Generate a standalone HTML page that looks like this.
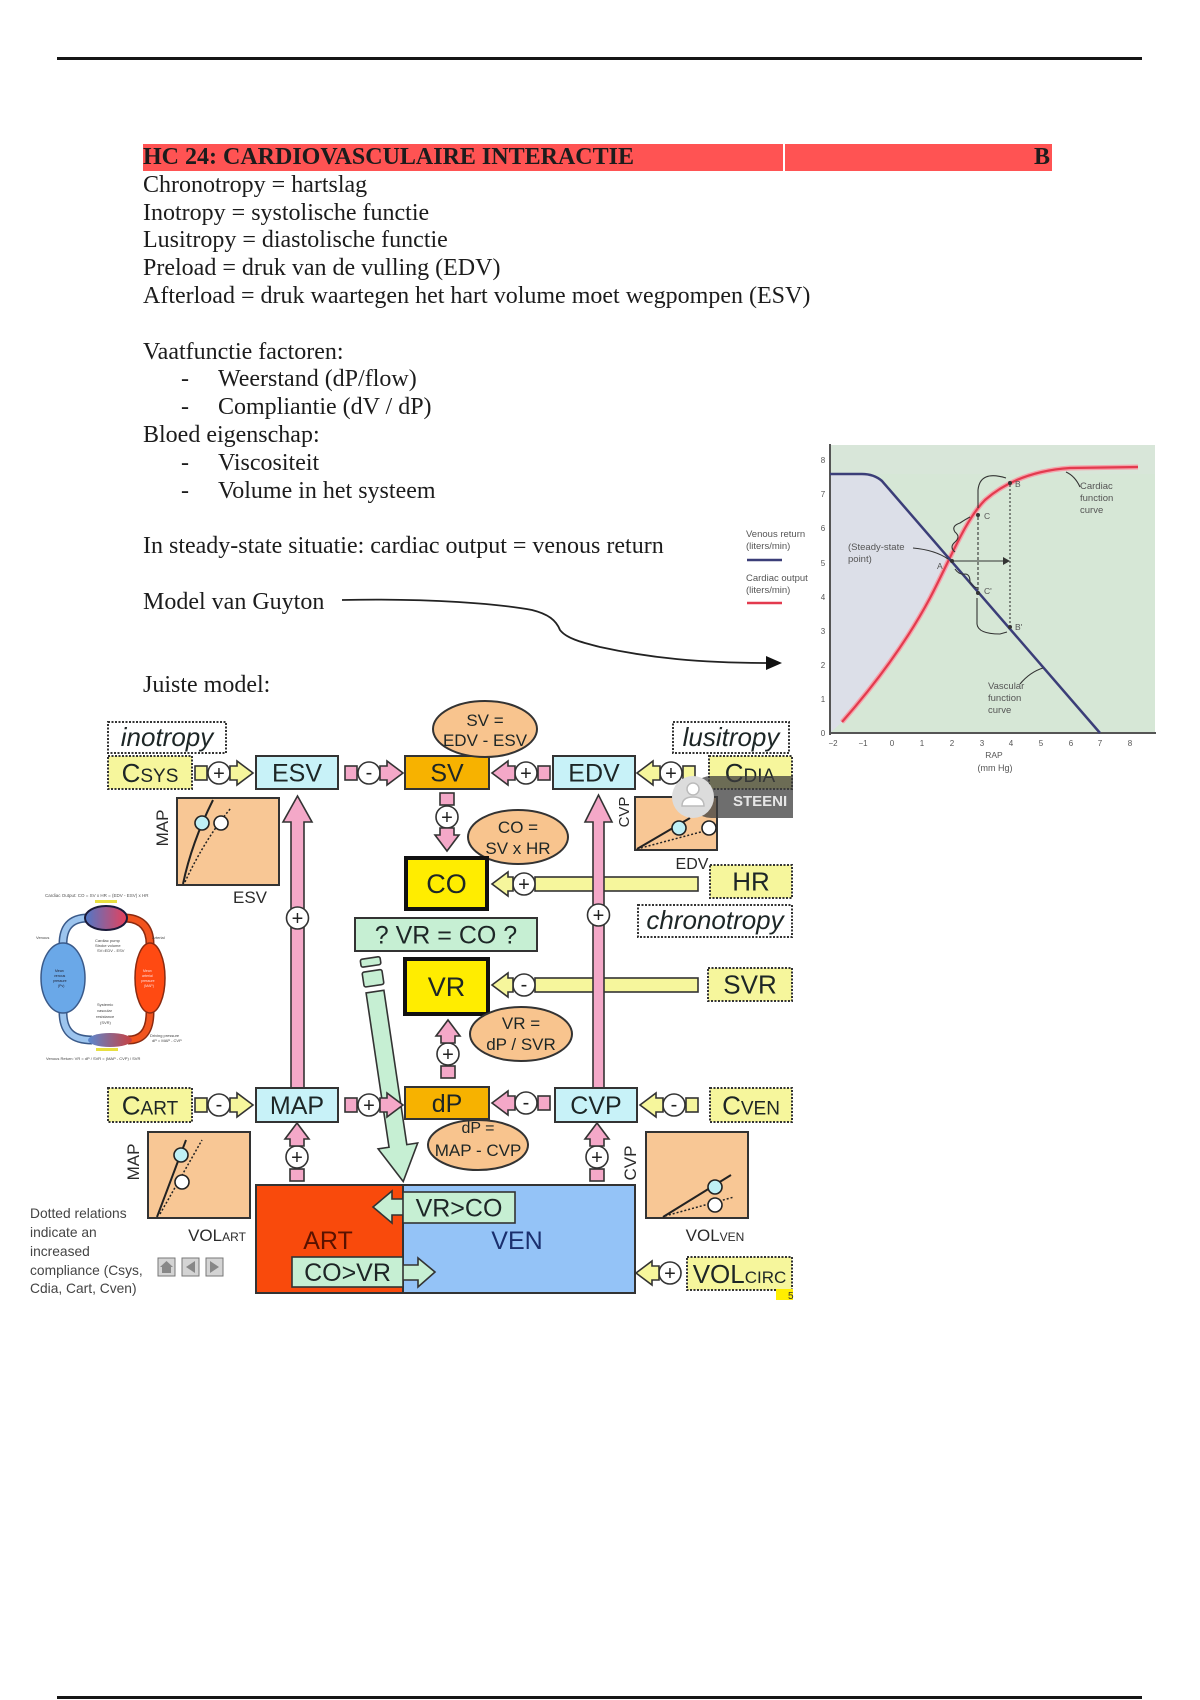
<!DOCTYPE html>
<html>
<head>
<meta charset="utf-8">
<style>
html,body{margin:0;padding:0;}
body{width:1200px;height:1700px;position:relative;overflow:hidden;background:#fff;}
.t{position:absolute;left:143px;font-family:"Liberation Serif","Times New Roman",serif;font-size:24px;line-height:27.8px;color:#1c1c1c;white-space:nowrap;}
.d{display:inline-block;width:37px;margin-left:38px;}
</style>
</head>
<body>
<div style="position:absolute;left:57px;top:57px;width:1085px;height:3px;background:#151515;"></div>
<div style="position:absolute;left:57px;top:1696px;width:1085px;height:3px;background:#151515;"></div>
<div style="position:absolute;left:143px;top:144px;width:909px;height:27px;background:#ff5353;"></div>
<div style="position:absolute;left:783px;top:144px;width:2px;height:27px;background:#fff;"></div>

<svg width="1200" height="1700" style="position:absolute;left:0;top:0" font-family="Liberation Sans, Arial, sans-serif">
<defs>
 <g id="cR" stroke="#333" stroke-width="1.6">
  <rect x="0" y="-7" width="12" height="14"/>
  <circle cx="24" cy="0" r="11" fill="#fff"/>
  <path d="M35,-7 L42,-7 L42,-12 L58,0 L42,12 L42,7 L35,7 Z"/>
 </g>
 <g id="cN" stroke="#333" stroke-width="1.6">
  <circle cx="24" cy="0" r="11" fill="#fff"/>
  <path d="M35,-7 L42,-7 L42,-12 L58,0 L42,12 L42,7 L35,7 Z"/>
 </g>
 <linearGradient id="hg" x1="0" x2="1" y1="0" y2="0"><stop offset="0" stop-color="#4f78c8"/><stop offset="1" stop-color="#e8405a"/></linearGradient>
 <linearGradient id="bg" x1="0" x2="1" y1="0" y2="0"><stop offset="0" stop-color="#5a88d0"/><stop offset="1" stop-color="#c84040"/></linearGradient>
</defs>

<!-- ============ GUYTON GRAPH ============ -->
<rect x="830" y="445" width="325" height="288" fill="#d6e7d6"/>
<path d="M830,474 L862,474 Q874,474 882,481 L952,562 C940,585 925,610 905,640 C885,670 865,700 842,722 L830,733 Z" fill="#dcdfe8"/>
<path d="M830,445 L1155,445 L1155,474 L830,474 Z" fill="#d9e6da" opacity="0.6"/>
<line x1="830" y1="444" x2="830" y2="735" stroke="#555" stroke-width="2"/>
<line x1="829" y1="733" x2="1156" y2="733" stroke="#555" stroke-width="2"/>
<g font-size="8" fill="#555" text-anchor="middle">
 <text x="823" y="736">0</text><text x="823" y="702">1</text><text x="823" y="668">2</text><text x="823" y="634">3</text><text x="823" y="600">4</text><text x="823" y="566">5</text><text x="823" y="531">6</text><text x="823" y="497">7</text><text x="823" y="463">8</text>
 <text x="833" y="746">−2</text><text x="863" y="746">−1</text><text x="892" y="746">0</text><text x="922" y="746">1</text><text x="952" y="746">2</text><text x="982" y="746">3</text><text x="1011" y="746">4</text><text x="1041" y="746">5</text><text x="1071" y="746">6</text><text x="1100" y="746">7</text><text x="1130" y="746">8</text>
 <text x="994" y="758" font-size="8.5">RAP</text><text x="995" y="771" font-size="9">(mm Hg)</text>
</g>
<path d="M842,722 C870,690 905,645 930,598 C950,560 965,520 985,500 C1010,478 1040,470 1070,468 L1138,467" fill="none" stroke="#f4a3ab" stroke-width="5"/>
<path d="M842,722 C870,690 905,645 930,598 C950,560 965,520 985,500 C1010,478 1040,470 1070,468 L1138,467" fill="none" stroke="#e33a4e" stroke-width="2.2"/>
<path d="M830,474 L862,474 Q874,474 882,481 L1100,733" fill="none" stroke="#3b3e78" stroke-width="2.5"/>
<g stroke="#333" fill="none" stroke-width="1.1">
 <line x1="978" y1="517" x2="978" y2="591" stroke-dasharray="3 2"/>
 <line x1="1010" y1="485" x2="1010" y2="625" stroke-dasharray="2 2"/>
 <line x1="953" y1="561" x2="1004" y2="561"/>
 <path d="M1006,478 Q980,470 978,490 L978,508"/>
 <path d="M977,598 L977,624 Q978,634 1000,634 L1007,632"/>
 <path d="M955,552 q-6,-5 0,-10 q6,-5 0,-10 q-4,-6 5,-9 q6,-4 10,-6"/>
 <path d="M955,569 q4,6 10,5 q5,0 5,8 q4,6 8,6"/>
 <path d="M913,548 Q935,550 948,559"/>
 <path d="M1080,487 Q1075,476 1066,472"/>
 <path d="M1020,684 Q1030,672 1043,668"/>
</g>
<path d="M1010,561 L1003,557 L1003,565 Z" fill="#333"/>
<g fill="#333"><circle cx="952" cy="561" r="2"/><circle cx="978" cy="515" r="2"/><circle cx="1010" cy="483" r="2"/><circle cx="978" cy="593" r="2"/><circle cx="1010" cy="627" r="2"/></g>
<g font-size="8.5" fill="#555">
 <text x="937" y="569">A</text><text x="984" y="519">C</text><text x="1015" y="487">B</text><text x="984" y="594">C'</text><text x="1015" y="630">B'</text>
</g>
<g font-size="9.5" fill="#555">
 <text x="848" y="550">(Steady-state</text><text x="848" y="562">point)</text>
 <text x="1080" y="489">Cardiac</text><text x="1080" y="501">function</text><text x="1080" y="513">curve</text>
 <text x="988" y="689">Vascular</text><text x="988" y="701">function</text><text x="988" y="713">curve</text>
 <text x="746" y="537">Venous return</text><text x="746" y="549">(liters/min)</text>
 <text x="746" y="581">Cardiac output</text><text x="746" y="593">(liters/min)</text>
</g>
<line x1="747" y1="560" x2="782" y2="560" stroke="#3b3e78" stroke-width="2.5"/>
<line x1="747" y1="603" x2="782" y2="603" stroke="#e33a4e" stroke-width="2.5"/>

<!-- Guyton arrow -->
<path d="M342,600 C430,598 500,604 532,610 C548,614 556,620 560,630 C566,638 580,642 600,647 C650,658 700,663 768,663" fill="none" stroke="#222" stroke-width="1.8"/>
<path d="M782,663 L766,656 L766,670 Z" fill="#111"/>

<!-- ============ DIAGRAM ============ -->
<g stroke="#333" stroke-width="1.6" fill="#f6f69c">
 <rect x="535" y="877" width="163" height="14"/>
 <circle cx="524" cy="884" r="11" fill="#fff"/>
 <path d="M513,877 L508,877 L508,872 L492,884 L508,896 L508,891 L513,891 Z"/>
 <rect x="535" y="978" width="163" height="14"/>
 <circle cx="524" cy="985" r="11" fill="#fff"/>
 <path d="M513,978 L508,978 L508,973 L492,985 L508,997 L508,992 L513,992 Z"/>
</g>
<g font-size="20" fill="#222" text-anchor="middle">
 <text x="524" y="891">+</text><text x="524" y="991">-</text>
</g>

<g stroke="#333" stroke-width="1.6" fill="#f4a8c8">
 <path d="M291,1088 L291,822 L283,822 L297.5,796 L312,822 L304,822 L304,1088 Z"/>
 <path d="M593,1088 L593,822 L585,822 L598.5,795 L612,822 L604,822 L604,1088 Z"/>
 <circle cx="297.5" cy="918" r="11" fill="#fff"/>
 <circle cx="598.5" cy="915" r="11" fill="#fff"/>
</g>
<g font-size="20" fill="#222" text-anchor="middle">
 <text x="297.5" y="925">+</text><text x="598.5" y="922">+</text>
</g>

<g transform="translate(370,958) rotate(-8.45)" stroke="#333" stroke-width="1.6" fill="#c6efd3">
 <rect x="-10" y="0" width="20" height="8" rx="2"/>
 <rect x="-10" y="13" width="20" height="15" rx="2"/>
 <path d="M-9,34 L9,34 L9,190 L20,190 L0,226 L-20,190 L-9,190 Z"/>
</g>

<use href="#cR" transform="translate(195,773)" fill="#f6f69c"/>
<use href="#cR" transform="translate(345,773)" fill="#f4a8c8"/>
<use href="#cR" transform="translate(550,773) scale(-1,1)" fill="#f4a8c8"/>
<use href="#cR" transform="translate(695,773) scale(-1,1)" fill="#f6f69c"/>
<use href="#cR" transform="translate(195,1105)" fill="#f6f69c"/>
<use href="#cR" transform="translate(345,1105)" fill="#f4a8c8"/>
<use href="#cR" transform="translate(550,1103) scale(-1,1)" fill="#f4a8c8"/>
<use href="#cR" transform="translate(698,1105) scale(-1,1)" fill="#f6f69c"/>
<use href="#cN" transform="translate(694,1273) scale(-1,1)" fill="#f6f69c"/>
<use href="#cR" transform="translate(447,793) rotate(90)" fill="#f4a8c8"/>
<use href="#cR" transform="translate(448,1078) rotate(-90)" fill="#f4a8c8"/>
<use href="#cR" transform="translate(297,1181) rotate(-90)" fill="#f4a8c8"/>
<use href="#cR" transform="translate(597,1181) rotate(-90)" fill="#f4a8c8"/>
<g font-size="20" fill="#222" text-anchor="middle">
 <text x="219" y="780">+</text>
 <text x="369" y="779">-</text>
 <text x="526" y="780">+</text>
 <text x="671" y="780">+</text>
 <text x="219" y="1111">-</text>
 <text x="369" y="1112">+</text>
 <text x="526" y="1109">-</text>
 <text x="674" y="1111">-</text>
 <text x="670" y="1280">+</text>
 <text x="447" y="824">+</text>
 <text x="448" y="1061">+</text>
 <text x="297" y="1164">+</text>
 <text x="597" y="1164">+</text>
</g>

<g stroke="#333" stroke-width="2">
 <rect x="108" y="722" width="118" height="31" fill="#fff" stroke-dasharray="2 1.5"/>
 <rect x="108" y="756" width="84" height="33" fill="#f6f69c" stroke-dasharray="2 1.5"/>
 <rect x="256" y="756" width="82" height="33" fill="#c8f2f8"/>
 <rect x="405" y="756" width="84" height="33" fill="#f7b200"/>
 <rect x="553" y="756" width="82" height="33" fill="#c8f2f8"/>
 <rect x="673" y="722" width="116" height="31" fill="#fff" stroke-dasharray="2 1.5"/>
 <rect x="709" y="756" width="83" height="33" fill="#f6f69c" stroke-dasharray="2 1.5"/>
 <ellipse cx="485" cy="729" rx="52" ry="28" fill="#f8c48e"/>
 <ellipse cx="518" cy="837" rx="50" ry="27" fill="#f8c48e"/>
 <rect x="406" y="858" width="81" height="51" fill="#ffed00" stroke="#111" stroke-width="4"/>
 <rect x="710" y="865" width="82" height="33" fill="#f6f69c" stroke-dasharray="2 1.5"/>
 <rect x="638" y="905" width="154" height="32" fill="#fff" stroke-dasharray="2 1.5"/>
 <rect x="355" y="918" width="182" height="33" fill="#c6efd3"/>
 <rect x="405" y="959" width="83" height="55" fill="#ffed00" stroke="#111" stroke-width="4"/>
 <rect x="708" y="968" width="84" height="33" fill="#f6f69c" stroke-dasharray="2 1.5"/>
 <ellipse cx="521" cy="1034" rx="51" ry="27" fill="#f8c48e"/>
 <rect x="108" y="1088" width="84" height="34" fill="#f6f69c" stroke-dasharray="2 1.5"/>
 <rect x="256" y="1088" width="82" height="34" fill="#c8f2f8"/>
 <ellipse cx="478" cy="1145" rx="50" ry="25" fill="#f8c48e"/>
 <rect x="405" y="1087" width="84" height="32" fill="#f7b200"/>
 <rect x="555" y="1088" width="82" height="34" fill="#c8f2f8"/>
 <rect x="710" y="1088" width="82" height="34" fill="#f6f69c" stroke-dasharray="2 1.5"/>
 <rect x="256" y="1185" width="147" height="108" fill="#f94a0c"/>
 <rect x="403" y="1185" width="232" height="108" fill="#94c3f7"/>
 <rect x="687" y="1257" width="105" height="33" fill="#f6f69c" stroke-dasharray="2 1.5"/>
</g>
<g stroke="#333" stroke-width="1.6" fill="#c6efd3">
 <path d="M405,1199 L392,1199 L392,1191 L373,1207 L392,1223 L392,1215 L405,1215 Z"/>
 <rect x="403" y="1192" width="112" height="31"/>
 <path d="M401,1265 L418,1265 L418,1258 L435,1272 L418,1287 L418,1280 L401,1280 Z"/>
 <rect x="292" y="1257" width="111" height="30"/>
</g>

<g stroke="#333" stroke-width="2" fill="#f8c795">
 <rect x="177" y="798" width="102" height="87"/>
 <rect x="635" y="797" width="82" height="53"/>
 <rect x="148" y="1132" width="102" height="86"/>
 <rect x="646" y="1132" width="102" height="86"/>
</g>
<g fill="none" stroke="#222">
 <path d="M183,884 C188,860 198,830 213,800" stroke-width="2"/>
 <path d="M185,882 C195,860 212,830 231,808" stroke-width="1.5" stroke-dasharray="2 2"/>
 <path d="M637,849 L690,818" stroke-width="2"/>
 <path d="M637,849 L712,829" stroke-width="1.5" stroke-dasharray="2 2"/>
 <path d="M157,1217 L186,1140" stroke-width="2"/>
 <path d="M160,1214 L202,1140" stroke-width="1.5" stroke-dasharray="2 2"/>
 <path d="M663,1217 L731,1175" stroke-width="2"/>
 <path d="M665,1216 L734,1197" stroke-width="1.5" stroke-dasharray="2 2"/>
</g>
<g stroke="#222" stroke-width="1.6">
 <circle cx="202" cy="823" r="7" fill="#bff0f5"/><circle cx="221" cy="823" r="7" fill="#fff"/>
 <circle cx="679" cy="828" r="7" fill="#bff0f5"/><circle cx="709" cy="828" r="7" fill="#fff"/>
 <circle cx="181" cy="1155" r="7" fill="#bff0f5"/><circle cx="182" cy="1182" r="7" fill="#fff"/>
 <circle cx="715" cy="1187" r="7" fill="#bff0f5"/><circle cx="715" cy="1205" r="7" fill="#fff"/>
</g>

<g fill="#1d2626" text-anchor="middle">
 <text x="167" y="746" font-size="26" font-style="italic">inotropy</text>
 <text x="150" y="782" font-size="26">C<tspan font-size="19">SYS</tspan></text>
 <text x="297" y="781.5" font-size="25">ESV</text>
 <text x="447" y="781.5" font-size="25">SV</text>
 <text x="594" y="781.5" font-size="25">EDV</text>
 <text x="731" y="746" font-size="26" font-style="italic">lusitropy</text>
 <text x="750" y="782" font-size="26">C<tspan font-size="19">DIA</tspan></text>
 <text x="485" y="726" font-size="17">SV =</text>
 <text x="485" y="746" font-size="17">EDV - ESV</text>
 <text x="518" y="833" font-size="17">CO =</text>
 <text x="518" y="854" font-size="17">SV x HR</text>
 <text x="446.5" y="893" font-size="27">CO</text>
 <text x="751" y="890.5" font-size="26">HR</text>
 <text x="715" y="929" font-size="26" font-style="italic">chronotropy</text>
 <text x="446" y="943.5" font-size="25">? VR = CO ?</text>
 <text x="446.5" y="996" font-size="27">VR</text>
 <text x="750" y="993.5" font-size="26">SVR</text>
 <text x="521" y="1029" font-size="17">VR =</text>
 <text x="521" y="1050" font-size="17">dP / SVR</text>
 <text x="150" y="1114.5" font-size="26">C<tspan font-size="19">ART</tspan></text>
 <text x="297" y="1114" font-size="25">MAP</text>
 <text x="478" y="1133" font-size="16">dP =</text>
 <text x="478" y="1156" font-size="17">MAP - CVP</text>
 <text x="596" y="1114" font-size="25">CVP</text>
 <text x="751" y="1114.5" font-size="26">C<tspan font-size="19">VEN</tspan></text>
 <text x="328" y="1249" font-size="25" fill="#5a1200">ART</text>
 <text x="517" y="1249" font-size="25" fill="#1a2f6e">VEN</text>
 <text x="459" y="1216.5" font-size="25">VR&gt;CO</text>
 <text x="347.5" y="1281" font-size="25">CO&gt;VR</text>
 <text x="739.5" y="1283" font-size="26">VOL<tspan font-size="17">CIRC</tspan></text>
</g>
<!-- dP box drawn again over the top of ellipse so "dP =" is partly hidden -->
<rect x="405" y="1087" width="84" height="32" fill="#f7b200" stroke="#333" stroke-width="2"/>
<text x="447" y="1112" font-size="25" fill="#1d2626" text-anchor="middle">dP</text>

<g fill="#2a2a2a" font-size="17" text-anchor="middle">
 <text transform="translate(168,828) rotate(-90)">MAP</text>
 <text x="250" y="903">ESV</text>
 <text transform="translate(629,812) rotate(-90)" font-size="15">CVP</text>
 <text x="692" y="869" font-size="16">EDV</text>
 <text transform="translate(139,1162) rotate(-90)">MAP</text>
 <text x="217" y="1241">VOL<tspan font-size="12">ART</tspan></text>
 <text transform="translate(636,1163) rotate(-90)">CVP</text>
 <text x="715" y="1241">VOL<tspan font-size="12">VEN</tspan></text>
</g>

<!-- mini circulation -->
<g>
 <text x="45" y="897" font-size="4.5" fill="#555">Cardiac Output: CO = SV x HR = (EDV - ESV) x HR</text>
 <rect x="95" y="900" width="22" height="3" fill="#e8e040"/>
 <path d="M88,918 C70,918 63,928 63,944 M63,1012 C63,1034 75,1040 92,1040" fill="none" stroke="#3a5a8a" stroke-width="9"/>
 <path d="M88,918 C70,918 63,928 63,944 M63,1012 C63,1034 75,1040 92,1040" fill="none" stroke="#9cc4ee" stroke-width="6"/>
 <path d="M124,918 C142,918 150,928 150,944 M150,1012 C150,1034 140,1040 128,1040" fill="none" stroke="#8a2a10" stroke-width="9"/>
 <path d="M124,918 C142,918 150,928 150,944 M150,1012 C150,1034 140,1040 128,1040" fill="none" stroke="#f2541e" stroke-width="6"/>
 <ellipse cx="63" cy="978" rx="22" ry="35" fill="#6aa8e8" stroke="#3a5a8a" stroke-width="1.5"/>
 <ellipse cx="150" cy="978" rx="15" ry="35" fill="#ff4a12" stroke="#8a2a10" stroke-width="1.5"/>
 <ellipse cx="106" cy="918" rx="21" ry="12" fill="url(#hg)" stroke="#1a1a3a" stroke-width="2"/>
 <ellipse cx="110" cy="1040" rx="22" ry="7" fill="url(#bg)"/>
 <rect x="96" y="1048" width="22" height="3" fill="#e8e040"/>
 <g font-size="4" fill="#444">
  <text x="36" y="939">Venous</text><text x="152" y="939">Arterial</text>
  <text x="95" y="942">Cardiac pump</text><text x="95" y="947">Stroke volume</text><text x="97" y="952">SV=EDV - ESV</text>
  <text x="97" y="1006">Systemic</text><text x="97" y="1012">vascular</text><text x="96" y="1018">resistance</text><text x="100" y="1024">(SVR)</text>
  <text x="150" y="1037">Driving pressure</text><text x="152" y="1042">dP = MAP - CVP</text>
  <text x="46" y="1060">Venous Return: VR = dP / SVR = (MAP - CVP) / SVR</text>
 </g>
 <g font-size="3.5" fill="#223">
  <text x="55" y="972">Mean</text><text x="54" y="977">venous</text><text x="53" y="982">pressure</text><text x="58" y="987">(Pv)</text>
 </g>
 <g font-size="3.5" fill="#fdd">
  <text x="143" y="972">Mean</text><text x="142" y="977">arterial</text><text x="141" y="982">pressure</text><text x="144" y="987">(MAP)</text>
 </g>
</g>

<g font-size="13.8" fill="#444">
 <text x="30" y="1218">Dotted relations</text>
 <text x="30" y="1237">indicate an</text>
 <text x="30" y="1256">increased</text>
 <text x="30" y="1275">compliance (Csys,</text>
 <text x="30" y="1293">Cdia, Cart, Cven)</text>
</g>
<g stroke="#777" stroke-width="1" fill="#d4d4d4">
 <rect x="158" y="1258" width="17" height="18"/>
 <rect x="182" y="1258" width="17" height="18"/>
 <rect x="206" y="1258" width="17" height="18"/>
</g>
<g fill="#888">
 <path d="M166.5,1261 L173,1267 L160,1267 Z"/><rect x="162" y="1267" width="9" height="6"/>
 <path d="M195,1261 L186,1267 L195,1273 Z"/>
 <path d="M210,1261 L219,1267 L210,1273 Z"/>
</g>

<!-- overlay pill (clipped at right edge of diagram) -->
<path d="M711,776 L793,776 L793,818 L711,818 A21,21 0 0 1 711,776 Z" fill="#3e3e3e" opacity="0.75"/>
<circle cx="693" cy="797" r="21" fill="#dcdcdc"/>
<circle cx="693" cy="789" r="6" fill="#fff" stroke="#bbb" stroke-width="1.5"/>
<path d="M682,806 Q682,797 693,797 Q704,797 704,806 Z" fill="#fff" stroke="#bbb" stroke-width="1.5"/>
<svg x="720" y="776" width="73" height="42"><text x="13" y="30" font-size="15" font-weight="bold" fill="#e6e6e6">STEENI</text></svg>

<rect x="776" y="1289" width="17" height="11" fill="#ffee00"/>
<text x="788" y="1299" font-size="10" fill="#333">5</text>
</svg>

<div class="t" style="top:144px;font-weight:bold;">HC 24: CARDIOVASCULAIRE INTERACTIE</div>
<div class="t" style="top:144px;left:1034px;font-weight:bold;">B</div>
<div class="t" style="top:171.8px;">
Chronotropy = hartslag<br>
Inotropy = systolische functie<br>
Lusitropy = diastolische functie<br>
Preload = druk van de vulling (EDV)<br>
Afterload = druk waartegen het hart volume moet wegpompen (ESV)<br>
<br>
Vaatfunctie factoren:<br>
<span class="d">-</span>Weerstand (dP/flow)<br>
<span class="d">-</span>Compliantie (dV / dP)<br>
Bloed eigenschap:<br>
<span class="d">-</span>Viscositeit<br>
<span class="d">-</span>Volume in het systeem<br>
<br>
In steady-state situatie: cardiac output = venous return<br>
<br>
Model van Guyton<br>
<br>
<br>
Juiste model:
</div>
</body>
</html>
